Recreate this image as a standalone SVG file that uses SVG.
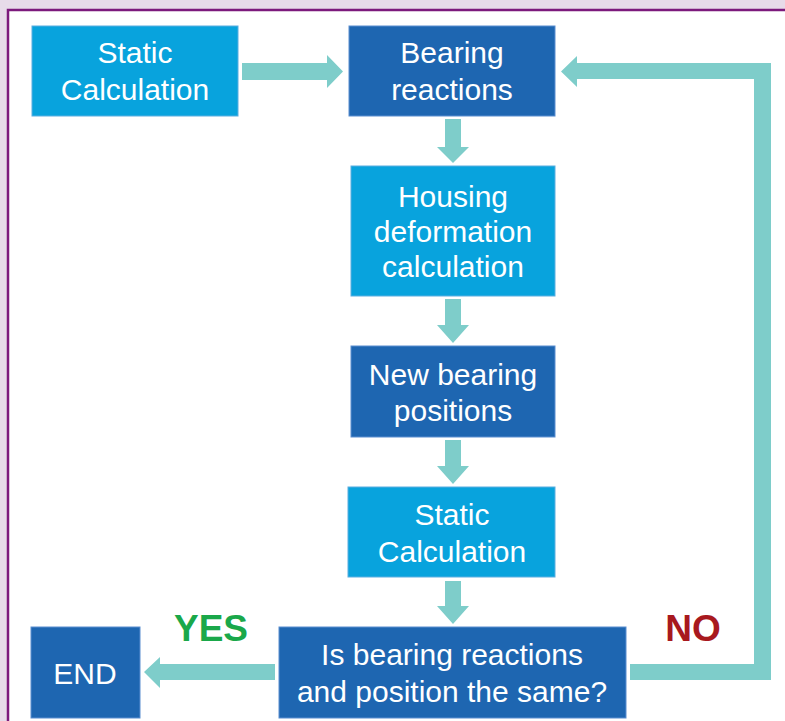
<svg xmlns="http://www.w3.org/2000/svg" width="785" height="721" viewBox="0 0 785 721">
<style>
.light{fill:#08a3dd;stroke:#5aaee0;stroke-width:1}
.dark{fill:#1e66b1;stroke:#5a8ed0;stroke-width:1}
.t{font-family:"Liberation Sans",Arial,sans-serif;font-size:30px;fill:#ffffff;text-anchor:middle}
.arrow{fill:#7ecdca}
.lbl{font-family:"Liberation Sans",Arial,sans-serif;font-size:37px;font-weight:bold;text-anchor:middle}
</style>
<rect x="0" y="0" width="785" height="721" fill="#e7dbe9"/>
<rect x="8" y="10" width="790" height="730" fill="#ffffff" stroke="#7c1a7c" stroke-width="2.5"/>
<g id="connectors">
<path class="arrow" d="M242,63 H327 V55 L343,71.5 L327,88 V80 H242 Z"/>
<path class="arrow" d="M445,119 H461 V147 H469 L453,163 L437,147 H445 Z"/>
<path class="arrow" d="M445,299 H461 V325 H469 L453,343 L437,325 H445 Z"/>
<path class="arrow" d="M445,440 H461 V466 H469 L453,484 L437,466 H445 Z"/>
<path class="arrow" d="M445,581 H461 V606 H469 L453,624 L437,606 H445 Z"/>
<path class="arrow" d="M275,664 H160 V657 L144,672 L160,688 V680 H275 Z"/>
<path class="arrow" d="M630,664 H754 V79 H577 V87 L561,71.5 L577,56 V63 H771 V680 H630 Z"/>
</g>
<g id="static1"><rect class="light" x="32" y="26" width="206" height="90"/><text class="t" x="135" y="63">Static</text><text class="t" x="135" y="100">Calculation</text></g>
<g id="bearing"><rect class="dark" x="349" y="26" width="206" height="90"/><text class="t" x="452" y="63">Bearing</text><text class="t" x="452" y="100">reactions</text></g>
<g id="housing"><rect class="light" x="351" y="166" width="204" height="130"/><text class="t" x="453" y="207">Housing</text><text class="t" x="453" y="242">deformation</text><text class="t" x="453" y="277">calculation</text></g>
<g id="newpos"><rect class="dark" x="351" y="346" width="204" height="91"/><text class="t" x="453" y="385">New bearing</text><text class="t" x="453" y="421">positions</text></g>
<g id="static2"><rect class="light" x="348" y="487" width="207" height="90"/><text class="t" x="452" y="525">Static</text><text class="t" x="452" y="562">Calculation</text></g>
<g id="decision"><rect class="dark" x="279" y="627" width="347" height="91"/><text class="t" x="452" y="665">Is bearing reactions</text><text class="t" x="452" y="702">and position the same?</text></g>
<g id="end"><rect class="dark" x="31" y="627" width="109" height="91"/><text class="t" x="85" y="684">END</text></g>
<text class="lbl" x="211" y="641" fill="#1aa84a">YES</text>
<text class="lbl" x="693" y="641" fill="#a8191e">NO</text>
</svg>
